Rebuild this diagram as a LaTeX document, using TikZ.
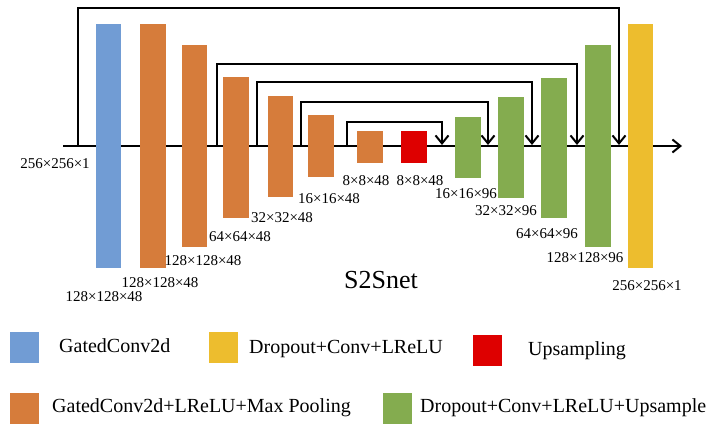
\documentclass[tikz,border=0pt]{standalone}
\usepackage{fontspec}
\setmainfont{Liberation Serif}
\newfontfamily\timesface{Liberation Serif}
\usetikzlibrary{arrows.meta}

\definecolor{convblue}{RGB}{113,156,212}
\definecolor{poolorange}{RGB}{214,124,59}
\definecolor{upred}{RGB}{222,0,0}
\definecolor{decgreen}{RGB}{132,172,79}
\definecolor{outyellow}{RGB}{237,189,46}

\begin{document}
\begin{tikzpicture}[x=1pt, y=-1pt,
  bar/.style={rectangle, inner sep=0pt, minimum width=25.5pt},
  dimlabel/.style={inner sep=0pt, font=\timesface\fontsize{15}{17}\selectfont},
  legbox/.style={rectangle, inner sep=0pt, minimum width=29pt, minimum height=31pt},
  legtext/.style={anchor=west, inner sep=0pt, font=\timesface\fontsize{20}{24}\selectfont},
  flow/.style={line width=2pt, -{Straight Barb[length=8pt, width=13pt, line width=2pt]}}]
  \useasboundingbox (0,0) rectangle (712,423);

  % Main line
  \coordinate (in) at (63,146);
  \coordinate (out) at (682,146);
  \draw[flow] (in) -- (out);

  % Skip connections
  \coordinate (tap1) at (78,146);   \coordinate (top1) at (619,7.5);  \coordinate (join1) at (619,145);
  \coordinate (tap2) at (217,146);  \coordinate (top2) at (577,64);   \coordinate (join2) at (577,145);
  \coordinate (tap3) at (257,146);  \coordinate (top3) at (532,82);   \coordinate (join3) at (532,145);
  \coordinate (tap4) at (301,146);  \coordinate (top4) at (488,102);  \coordinate (join4) at (488,145);
  \coordinate (tap5) at (347,146);  \coordinate (top5) at (442,122);  \coordinate (join5) at (442,145);
  \draw[flow] (tap1) |- (top1) -- (join1);
  \draw[flow] (tap2) |- (top2) -- (join2);
  \draw[flow] (tap3) |- (top3) -- (join3);
  \draw[flow] (tap4) |- (top4) -- (join4);
  \draw[flow] (tap5) |- (top5) -- (join5);

  % Encoder
  \node[bar, fill=convblue, minimum height=244pt] (enc0) at (108.5,146) {};
  \node[bar, fill=poolorange, minimum height=244pt] (enc1) at (153,146) {};
  \node[bar, fill=poolorange, minimum height=202pt] (enc2) at (194.5,146) {};
  \node[bar, fill=poolorange, minimum height=141pt] (enc3) at (236,147.5) {};
  \node[bar, fill=poolorange, minimum height=101pt] (enc4) at (280.5,146.5) {};
  \node[bar, fill=poolorange, minimum height=62pt] (enc5) at (321,146) {};
  \node[bar, fill=poolorange, minimum height=32pt] (enc6) at (370,147) {};
  \node[bar, fill=upred, minimum height=32pt] (ups) at (414,147) {};

  % Decoder
  \node[bar, fill=decgreen, minimum height=61pt] (dec1) at (468,147.5) {};
  \node[bar, fill=decgreen, minimum height=101pt] (dec2) at (511,147.5) {};
  \node[bar, fill=decgreen, minimum height=140pt] (dec3) at (554,148) {};
  \node[bar, fill=decgreen, minimum height=202pt] (dec4) at (598,146) {};
  \node[bar, fill=outyellow, minimum height=244pt] (final) at (640.5,146) {};

  % Sizes
  \node[dimlabel] (lin) at (55,164) {256×256×1};
  \node[dimlabel] (l0) at (104,297) {128×128×48};
  \node[dimlabel] (l1) at (160,283) {128×128×48};
  \node[dimlabel] (l2) at (203,261) {128×128×48};
  \node[dimlabel] (l3) at (240,237) {64×64×48};
  \node[dimlabel] (l4) at (282,218) {32×32×48};
  \node[dimlabel] (l5) at (329,199) {16×16×48};
  \node[dimlabel] (l6) at (366,181) {8×8×48};
  \node[dimlabel] (lup) at (420,181) {8×8×48};
  \node[dimlabel] (d1) at (466,194) {16×16×96};
  \node[dimlabel] (d2) at (506,211) {32×32×96};
  \node[dimlabel] (d3) at (547,234) {64×64×96};
  \node[dimlabel] (d4) at (585,258) {128×128×96};
  \node[dimlabel] (lout) at (647,286) {256×256×1};
  \node[inner sep=0pt, font=\timesface\fontsize{26}{30}\selectfont] (title) at (381,280) {S2Snet};

  % Legend
  \node[legbox, fill=convblue] (kblue) at (24.5,347.5) {};
  \node[legtext] (tblue) at (59,346) {GatedConv2d};
  \node[legbox, fill=outyellow] (kyellow) at (223.5,347) {};
  \node[legtext] (tyellow) at (249,349) {Dropout+Conv+LReLU};
  \node[legbox, fill=upred] (kred) at (487.5,350) {};
  \node[legtext] (tred) at (528,351) {Upsampling};
  \node[legbox, fill=poolorange] (korange) at (24.5,408.5) {};
  \node[legtext] (torange) at (52,408) {GatedConv2d+LReLU+Max Pooling};
  \node[legbox, fill=decgreen] (kgreen) at (397,408.5) {};
  \node[legtext] (tgreen) at (420,408) {Dropout+Conv+LReLU+Upsample};
\end{tikzpicture}
\end{document}
